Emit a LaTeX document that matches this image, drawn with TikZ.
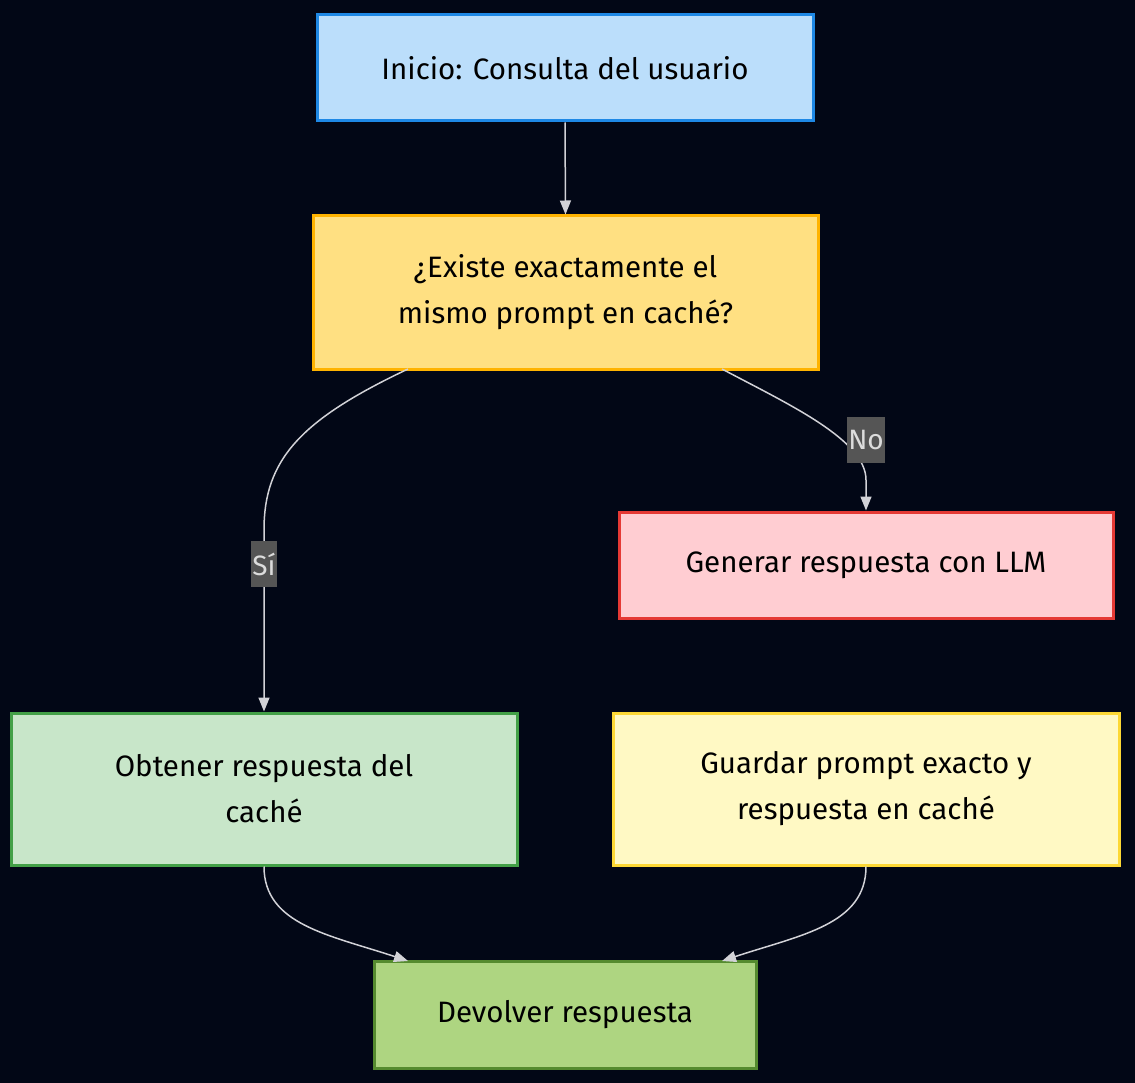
\documentclass[tikz,border=0pt]{standalone}
\usepackage{fontspec}
\setmainfont{Fira Sans}
\usetikzlibrary{arrows.meta}
\definecolor{bg}{RGB}{2,7,22}
\definecolor{edgec}{RGB}{210,210,215}
\definecolor{lblbg}{RGB}{85,85,85}
\definecolor{lbltx}{RGB}{220,220,220}
\definecolor{aF}{HTML}{BBDEFB}\definecolor{aD}{HTML}{1E88E5}
\definecolor{bF}{HTML}{FFE082}\definecolor{bD}{HTML}{FFB300}
\definecolor{cF}{HTML}{FFCDD2}\definecolor{cD}{HTML}{E53935}
\definecolor{dF}{HTML}{C8E6C9}\definecolor{dD}{HTML}{43A047}
\definecolor{eF}{HTML}{FFF9C4}\definecolor{eD}{HTML}{FDD835}
\definecolor{fF}{HTML}{AED581}\definecolor{fD}{HTML}{558B2F}
\tikzset{
  box/.style={draw, line width=3pt, inner sep=0pt, align=center, font=\fontsize{29.5}{46}\selectfont, text=black},
  conn/.style={draw=edgec, line width=1.5pt, -{Triangle[length=14pt,width=11pt]}},
  lbl/.style={fill=lblbg, text=lbltx, inner xsep=1.5pt, inner ysep=0pt, minimum height=46pt, font=\fontsize{28}{30}\selectfont}
}
\begin{document}
\begin{tikzpicture}[x=1pt,y=-1pt]
\fill[bg] (0,0) rectangle (1135,1083);
\useasboundingbox (0,0) rectangle (1135,1083);
\node[box, fill=aF, draw=aD, minimum width=496pt, minimum height=106pt] (A) at (565,68) {Inicio: Consulta del usuario};
\node[box, fill=bF, draw=bD, minimum width=505pt, minimum height=153pt] (B) at (565.5,292.5) {¿Existe exactamente el\\ mismo prompt en caché?};
\node[box, fill=cF, draw=cD, minimum width=494pt, minimum height=106pt] (C) at (866,565) {Generar respuesta con LLM};
\node[box, fill=dF, draw=dD, minimum width=506pt, minimum height=152pt] (D) at (264,789) {Obtener respuesta del\\ caché};
\node[box, fill=eF, draw=eD, minimum width=506pt, minimum height=152pt] (E) at (866,789) {Guardar prompt exacto y\\ respuesta en caché};
\node[box, fill=fF, draw=fD, minimum width=382pt, minimum height=107pt] (F) at (565,1014.5) {Devolver respuesta};
\coordinate (b1) at (408,369);
\coordinate (b2) at (722,369);
\coordinate (f1) at (408,961);
\coordinate (f2) at (722,961);
\draw[conn] (A.south) -- (B.north);
\draw[conn] (b1) .. controls (300,420) and (264,460) .. (264,530) -- (D.north);
\draw[conn] (b2) .. controls (790,405) and (866,440) .. (866,480) -- (C.north);
\draw[conn] (D.south) .. controls (264,925) and (330,935) .. (f1);
\draw[conn] (E.south) .. controls (866,925) and (800,935) .. (f2);
\node[lbl] (ls) at (264,564) {Sí};
\node[lbl] (ln) at (866,440) {No};
\end{tikzpicture}
\end{document}
